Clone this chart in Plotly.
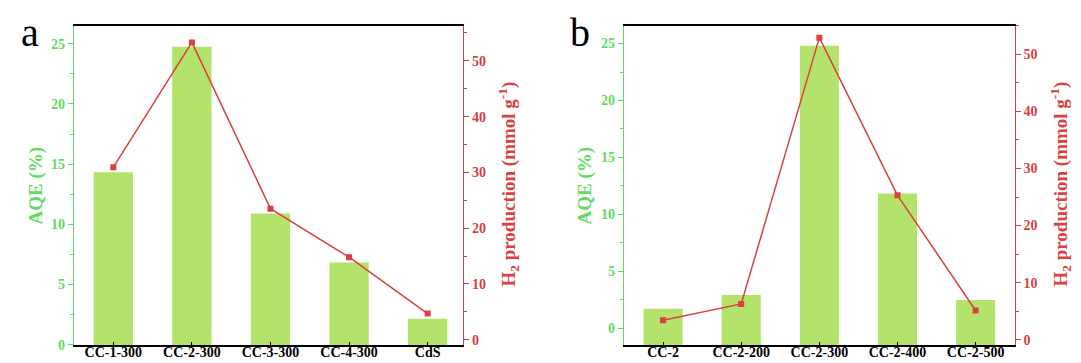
import plotly.graph_objects as go

cats_a = ["CC-1-300", "CC-2-300", "CC-3-300", "CC-4-300", "CdS"]
aqe_a = [14.33, 24.75, 10.9, 6.84, 2.17]
h2_a = [30.9, 53.3, 23.5, 14.8, 4.7]

cats_b = ["CC-2", "CC-2-200", "CC-2-300", "CC-2-400", "CC-2-500"]
aqe_b = [1.72, 2.92, 24.8, 11.84, 2.49]
h2_b = [3.43, 6.28, 52.9, 25.3, 5.14]

W, H = 1081, 363
GREEN = "#5fdc5f"
RED = "#d9403f"
BAR = "#b3e36a"
FONT = "Liberation Serif"

RANGE_A_LEFT = [-0.05, 26.5]
RANGE_A_RIGHT = [-1.0, 56.3]
RANGE_B_LEFT = [-1.49, 26.57]
RANGE_B_RIGHT = [-0.97, 55.0]

def px(x):
    return x / W

def py(y):
    return 1 - y / H

def bars(cats, vals, base, xa, ya):
    # bars are drawn from the bottom of the axis up to each value
    return go.Bar(x=cats, y=[v - base for v in vals], base=base,
                  marker=dict(color=BAR, line=dict(width=0)),
                  width=0.5, xaxis=xa, yaxis=ya, showlegend=False)

def line(cats, vals, xa, ya):
    return go.Scatter(x=cats, y=vals, mode="lines+markers",
                      line=dict(color=RED, width=1.5),
                      marker=dict(symbol="square", size=6, color=RED),
                      xaxis=xa, yaxis=ya, showlegend=False)

fig = go.Figure()
fig.add_trace(bars(cats_a, aqe_a, RANGE_A_LEFT[0], "x", "y"))
fig.add_trace(line(cats_a, h2_a, "x", "y2"))
fig.add_trace(bars(cats_b, aqe_b, RANGE_B_LEFT[0], "x2", "y3"))
fig.add_trace(line(cats_b, h2_b, "x2", "y4"))

tickfont_x = dict(family=FONT, size=14, color="black", weight="bold")
tickfont_g = dict(family=FONT, size=14, color=GREEN, weight="bold")
tickfont_r = dict(family=FONT, size=14, color=RED, weight="bold")

def xax(dom, anchor, rng):
    return dict(domain=dom, anchor=anchor, range=rng, showline=True,
                linecolor="black", linewidth=1.5, mirror=True, ticks="inside",
                ticklen=4, tickcolor="black", tickfont=tickfont_x, showgrid=False,
                zeroline=False, type="category", ticklabelstandoff=-7)

def yleft(anchor, rng):
    return dict(domain=[py(344), py(18)], anchor=anchor, range=rng, showline=True,
                linecolor=GREEN, linewidth=1.2, ticks="outside", ticklen=5,
                tickcolor=GREEN, tickfont=tickfont_g, dtick=5, tick0=0,
                showgrid=False, zeroline=False,
                minor=dict(ticks="outside", ticklen=3, tickcolor=GREEN, dtick=2.5))

def yright(anchor, overlay, rng):
    return dict(domain=[py(344), py(18)], anchor=anchor, overlaying=overlay, side="right",
                range=rng, showline=True, linecolor=RED, linewidth=1.2, ticks="outside",
                ticklen=5, tickcolor=RED, tickfont=tickfont_r, dtick=10, tick0=0,
                showgrid=False, zeroline=False,
                minor=dict(ticks="outside", ticklen=3, tickcolor=RED, dtick=5))

fig.update_layout(
    width=W, height=H, margin=dict(l=0, r=0, t=0, b=0),
    paper_bgcolor="white", plot_bgcolor="white",
    xaxis=xax([px(66), px(455)], "y", [-0.5, 4.45]),
    xaxis2=xax([px(616), px(1006.7)], "y3", [-0.5, 4.5]),
    yaxis=yleft("x", RANGE_A_LEFT),
    yaxis2=yright("x", "y", RANGE_A_RIGHT),
    yaxis3=yleft("x2", RANGE_B_LEFT),
    yaxis4=yright("x2", "y3", RANGE_B_RIGHT),
)

ann = []
def label(x, y, text, color, size=19, angle=-90, weight="bold"):
    ann.append(dict(x=px(x), y=py(y), xref="paper", yref="paper", text=text,
                    showarrow=False, textangle=angle, xanchor="center", yanchor="middle",
                    font=dict(family=FONT, size=size, color=color, weight=weight)))

label(28, 181, "AQE (%)", GREEN)
label(501, 180, "H<sub>2</sub> production (mmol g<sup>-1</sup>)", RED)
label(577, 181, "AQE (%)", GREEN)
label(1053, 180, "H<sub>2</sub> production (mmol g<sup>-1</sup>)", RED)
label(22, 25, "a", "black", size=40, angle=0, weight="normal")
label(572, 25, "b", "black", size=40, angle=0, weight="normal")
fig.update_layout(annotations=ann)

fig.write_html("out.html")
